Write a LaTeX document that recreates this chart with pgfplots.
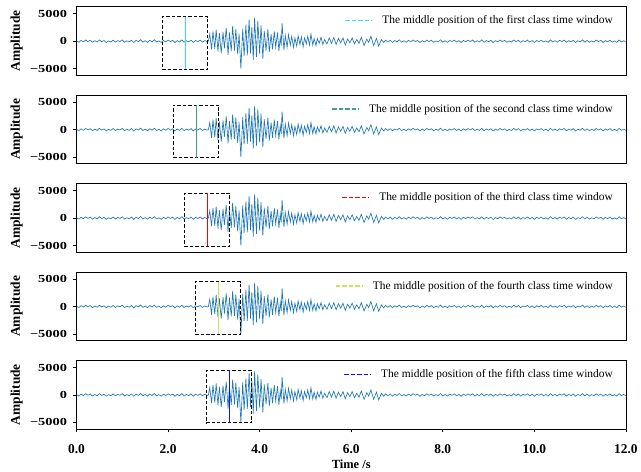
\documentclass[border=0pt]{standalone}
\usepackage{fontspec}
\setmainfont{Liberation Serif}
\usepackage{pgfplots}
\pgfplotsset{compat=1.18}
\usepackage{pgfplotstable}

\definecolor{wave}{HTML}{1F77B4}
\definecolor{c1}{HTML}{30E0EA}
\definecolor{c2}{HTML}{3FA090}
\definecolor{c3}{HTML}{FF0000}
\definecolor{c4}{HTML}{C8E650}
\definecolor{c5}{HTML}{1010FF}

% the recorded waveform (time in s, amplitude)
\pgfplotstableread{
t a
0.00 50
0.05 -180
0.10 150
0.15 -120
0.20 220
0.25 -60
0.30 180
0.35 -200
0.40 90
0.45 -150
0.50 240
0.55 -90
0.60 130
0.65 -220
0.70 60
0.75 -140
0.80 200
0.85 -170
0.90 110
0.95 -60
1.00 230
1.05 -190
1.10 70
1.15 -130
1.20 180
1.25 -240
1.30 150
1.35 -80
1.40 280
1.45 -160
1.50 90
1.55 -210
1.60 170
1.65 -100
1.70 260
1.75 -150
1.80 60
1.85 -230
1.90 140
1.95 -120
2.00 210
2.05 -60
2.10 160
2.15 -250
2.20 120
2.25 -140
2.30 240
2.35 -180
2.40 80
2.45 -110
2.50 190
2.55 -220
2.60 130
2.65 -70
2.70 200
2.75 -160
2.80 110
2.85 -90
2.88 0
2.91 1300
2.95 -1500
2.98 1800
3.02 -1400
3.05 2100
3.09 -1900
3.12 1500
3.16 -2200
3.20 1700
3.23 -1300
3.27 2400
3.31 -2500
3.34 1600
3.38 -1800
3.41 2800
3.45 -1700
3.48 2200
3.52 -2400
3.55 1400
3.59 -5000
3.63 2300
3.66 -2700
3.70 3000
3.73 -2600
3.77 4000
3.80 -2200
3.83 2600
3.86 -3400
3.89 4300
3.93 -2900
3.96 3700
4.00 -2300
4.03 2900
4.07 -3200
4.10 1900
4.14 -1700
4.18 2200
4.21 -2000
4.25 1300
4.28 -1500
4.32 1800
4.35 -1100
4.39 1600
4.42 -1800
4.45 700
4.47 -800
4.49 3300
4.53 -1600
4.56 1000
4.60 -1100
4.63 1200
4.67 -700
4.70 900
4.74 -1100
4.77 600
4.81 -900
4.84 1000
4.88 -600
4.91 800
4.95 -1000
4.98 600
5.02 -500
5.05 900
5.09 -700
5.12 1300
5.16 -700
5.19 500
5.23 -800
5.26 500
5.30 -400
5.34 700
5.38 -600
5.42 300
5.47 -500
5.52 600
5.57 -400
5.62 700
5.67 -600
5.72 500
5.77 -300
5.82 600
5.87 -700
5.92 400
5.97 -300
6.02 600
6.07 -500
6.12 300
6.17 -400
6.22 700
6.28 -800
6.34 400
6.38 -200
6.43 900
6.49 -800
6.55 500
6.60 -900
6.66 300
6.71 -250
6.75 200
6.80 -150
6.85 180
6.90 -220
6.95 120
7.00 -90
7.05 250
7.10 -170
7.15 80
7.20 -200
7.25 160
7.30 -110
7.35 230
7.40 -60
7.45 140
7.50 -240
7.55 100
7.60 -150
7.65 210
7.70 -80
7.75 170
7.80 -190
7.85 60
7.90 -130
7.95 260
8.00 -170
8.05 90
8.10 -210
8.15 140
8.20 -70
8.25 200
8.30 -160
8.35 110
8.40 -230
8.45 150
8.50 -100
8.55 190
8.60 -60
8.65 220
8.70 -180
8.75 80
8.80 -140
8.85 240
8.90 -200
8.95 130
9.00 -90
9.05 170
9.10 -250
9.15 100
9.20 -120
9.25 210
9.30 -70
9.35 150
9.40 -190
9.45 60
9.50 -160
9.55 230
9.60 -110
9.65 180
9.70 -220
9.75 90
9.80 -60
9.85 200
9.90 -170
9.95 120
10.00 -240
10.05 140
10.10 -80
10.15 190
10.20 -150
10.25 70
10.30 -210
10.35 250
10.40 -130
10.45 100
10.50 -180
10.55 160
10.60 -60
10.65 220
10.70 -200
10.75 110
10.80 -120
10.85 180
10.90 -230
10.95 80
11.00 -90
11.05 240
11.10 -160
11.15 130
11.20 -190
11.25 70
11.30 -140
11.35 210
11.40 -80
11.45 160
11.50 -220
11.55 120
11.60 -100
11.65 190
11.70 -170
11.75 60
11.80 -210
11.85 230
11.90 -130
11.95 90
12.00 -150
}\wave

\pgfplotsset{
  panel/.style={
    scale only axis, width=553pt, height=69pt,
    xmin=0, xmax=12, ymin=-6200, ymax=6300,
    axis line style={line width=0.8pt},
    tick style={black, line width=0.8pt},
    tick align=outside, major tick length=3.5pt,
    xtick pos=bottom, ytick pos=left,
    xtick=\empty,
    ytick={-5000,0,5000}, yticklabels={−5000,0,5000},
    yticklabel style={font=\bfseries\fontsize{14.5}{14.5}\selectfont, yscale=0.75, xshift=-2.5pt},
    ylabel={Amplitude},
    ylabel style={font=\bfseries\fontsize{13.5}{14}\selectfont,
      at={(axis description cs:-0.109,0.5)}, anchor=center},
    legend style={draw=none, fill=none, at={(1,1)}, anchor=north east,
      xshift=-8pt, yshift=-5pt, font=\fontsize{11.5}{12}\selectfont},
    legend cell align=left,
    legend image code/.code={\draw[##1, line width=1.3pt, dash pattern=on 4.5pt off 2pt] (0pt,0pt) -- (27pt,0pt); \path (35pt,0pt);},
  },
  box/.style={black, line width=0.9pt, dash pattern=on 3.5pt off 2pt, forget plot},
  mid/.style={line width=1.5pt, forget plot},
  sig/.style={wave, line width=0.65pt, forget plot},
}

\begin{document}
\begin{tikzpicture}
\begin{axis}[panel, name=a1, at={(0pt,0pt)}, anchor=north west]
\addplot[sig] table {\wave};
\addplot[box] coordinates {(1.87,-5100) (2.87,-5100) (2.87,4500) (1.87,4500) (1.87,-5100)};
\addplot[mid, c1] coordinates {(2.38,-5100) (2.38,4500)};
\addlegendimage{c1}
\addlegendentry{The middle position of the first class time window}
\end{axis}

\begin{axis}[panel, at={(0pt,-89pt)}, anchor=north west]
\addplot[sig] table {\wave};
\addplot[box] coordinates {(2.11,-5100) (3.11,-5100) (3.11,4500) (2.11,4500) (2.11,-5100)};
\addplot[mid, c2] coordinates {(2.62,-5100) (2.62,4500)};
\addlegendimage{c2}
\addlegendentry{The middle position of the second class time window}
\end{axis}

\begin{axis}[panel, at={(0pt,-178pt)}, anchor=north west]
\addplot[sig] table {\wave};
\addplot[box] coordinates {(2.35,-5100) (3.35,-5100) (3.35,4500) (2.35,4500) (2.35,-5100)};
\addplot[mid, c3] coordinates {(2.86,-5100) (2.86,4500)};
\addlegendimage{c3}
\addlegendentry{The middle position of the third class time window}
\end{axis}

\begin{axis}[panel, at={(0pt,-267pt)}, anchor=north west]
\addplot[sig] table {\wave};
\addplot[box] coordinates {(2.59,-5100) (3.59,-5100) (3.59,4500) (2.59,4500) (2.59,-5100)};
\addplot[mid, c4] coordinates {(3.10,-5100) (3.10,4500)};
\addlegendimage{c4}
\addlegendentry{The middle position of the fourth class time window}
\end{axis}

\begin{axis}[panel, at={(0pt,-356pt)}, anchor=north west,
  xtick={0,2,4,6,8,10,12},
  xticklabels={0.0,2.0,4.0,6.0,8.0,10.0,12.0},
  xticklabel style={font=\bfseries\fontsize{13.5}{14}\selectfont, yshift=-9pt},
  xlabel={Time /s},
  xlabel style={font=\bfseries\fontsize{12.5}{13}\selectfont,
    at={(axis description cs:0.5,0)}, anchor=center, yshift=-35.5pt}]
\addplot[sig] table {\wave};
\addplot[box] coordinates {(2.83,-5100) (3.83,-5100) (3.83,4500) (2.83,4500) (2.83,-5100)};
\addplot[mid, c5] coordinates {(3.34,-5100) (3.34,4500)};
\addlegendimage{c5}
\addlegendentry{The middle position of the fifth class time window}
\end{axis}

\path ([xshift=-77pt, yshift=6.7pt]a1.north west) rectangle ([xshift=566pt, yshift=-467pt]a1.north west);
\end{tikzpicture}
\end{document}
